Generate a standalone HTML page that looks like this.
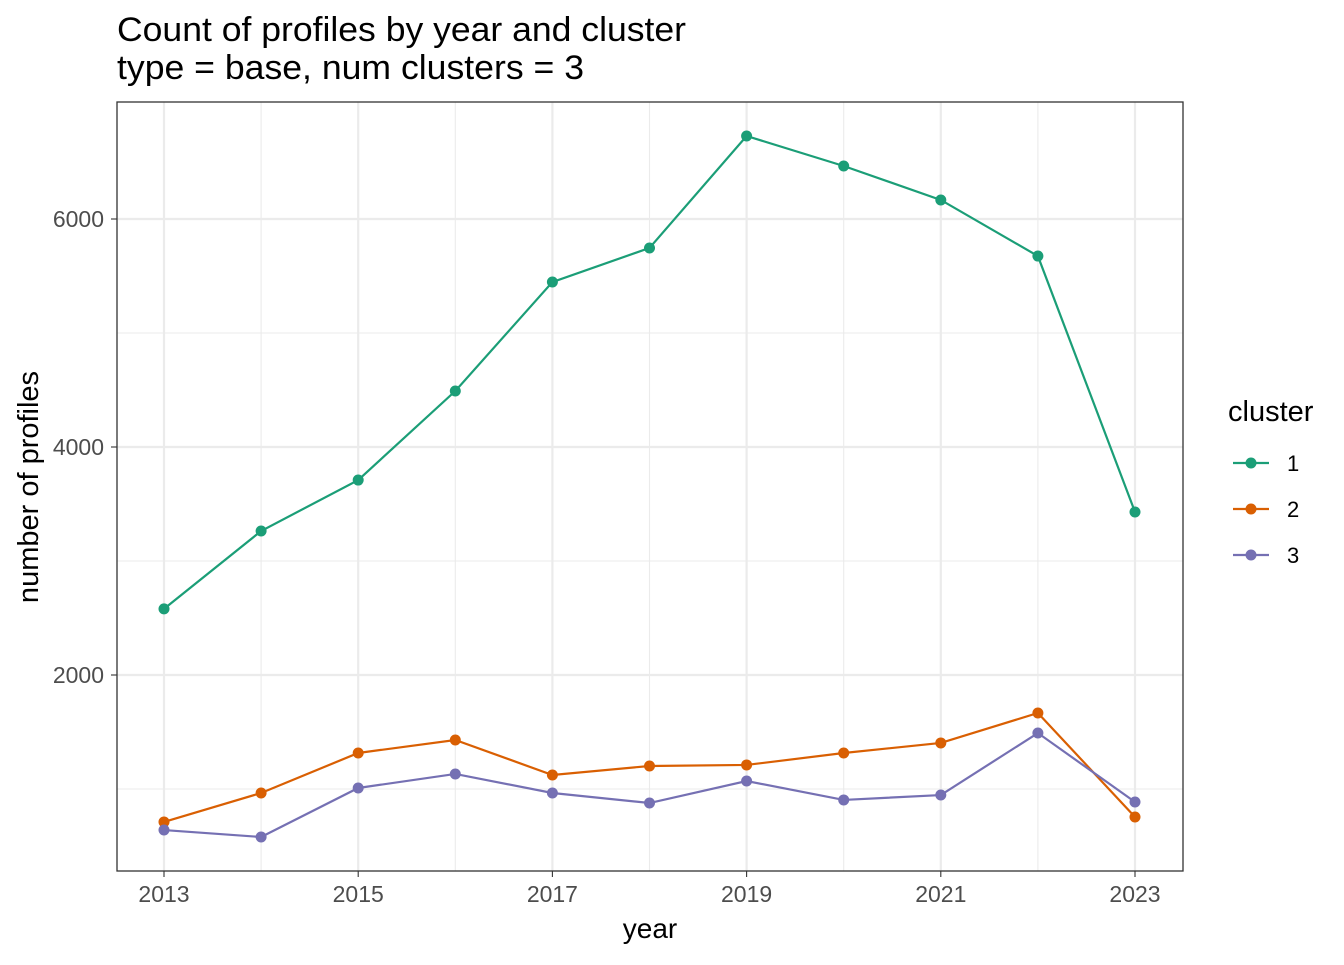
<!DOCTYPE html>
<html><head><meta charset="utf-8"><style>
body{margin:0;background:#fff;}
svg text{font-family:"Liberation Sans",sans-serif;}
</style></head><body>
<svg id="chart" width="1344" height="960" xmlns="http://www.w3.org/2000/svg">
<text x="117" y="41" font-size="34" textLength="569" lengthAdjust="spacingAndGlyphs" fill="#000">Count of profiles by year and cluster</text>
<text x="117" y="79" font-size="34" textLength="467" lengthAdjust="spacingAndGlyphs" fill="#000">type = base, num clusters = 3</text>
<g id="grid"></g>
<g id="series"></g>
<rect x="117" y="102" width="1066" height="769" fill="none" stroke="#333" stroke-width="1.3"/>
<g id="axes"></g>
<text x="650" y="938" font-size="28" text-anchor="middle">year</text>
<text transform="translate(38,487) rotate(-90)" font-size="29" text-anchor="middle">number of profiles</text>
<g id="legend"></g>
</svg>
<script>
const years=[2013,2014,2015,2016,2017,2018,2019,2020,2021,2022,2023];
const cluster1=[2580,3263,3710,4491,5447,5746,6728,6465,6167,5675,3430];
const cluster2=[711,965,1316,1430,1123,1202,1211,1316,1404,1667,754];
const cluster3=[640,579,1009,1132,965,877,1070,904,947,1491,886];
const yTicks=[2000,4000,6000];
const yMinor=[1000,3000,5000];
const xTicks=[2013,2015,2017,2019,2021,2023];
const seriesNames=["1","2","3"];
const colors=["#1b9e77","#d95f02","#7570b3"];
const NS="http://www.w3.org/2000/svg";
function x(v){return 164+(v-2013)*97.1;}
function y(v){return 675-(v-2000)*0.114;}
function mk(tag,attrs,parent){const e=document.createElementNS(NS,tag);for(const k in attrs)e.setAttribute(k,attrs[k]);parent.appendChild(e);return e;}
const grid=document.getElementById('grid'),axes=document.getElementById('axes'),ser=document.getElementById('series'),leg=document.getElementById('legend');
mk('rect',{x:117,y:102,width:1066,height:769,fill:'#fff'},grid);
yMinor.forEach(v=>{const l=mk('line',{x1:117,x2:1183,y1:y(v),y2:y(v),stroke:'#ebebeb','stroke-width':1.1},grid);

});
years.forEach(v=>{if(!xTicks.includes(v)){const l=mk('line',{x1:x(v),x2:x(v),y1:102,y2:871,stroke:'#ebebeb','stroke-width':1.1},grid);

}});
yTicks.forEach(v=>{const l=mk('line',{x1:117,x2:1183,y1:y(v),y2:y(v),stroke:'#ebebeb','stroke-width':2.2},grid);


mk('line',{x1:111,x2:117,y1:y(v),y2:y(v),stroke:'#333','stroke-width':1.1},axes);
const t=mk('text',{x:104,y:y(v)+8,'font-size':23,fill:'#4d4d4d','text-anchor':'end'},axes);t.textContent=v;

});
xTicks.forEach(v=>{const l=mk('line',{x1:x(v),x2:x(v),y1:102,y2:871,stroke:'#ebebeb','stroke-width':2.2},grid);


mk('line',{x1:x(v),x2:x(v),y1:871,y2:877,stroke:'#333','stroke-width':1.1},axes);
const t=mk('text',{x:x(v),y:902,'font-size':23,fill:'#4d4d4d','text-anchor':'middle'},axes);t.textContent=v;

});
[cluster1,cluster2,cluster3].forEach((vals,i)=>{
const p=mk('polyline',{points:vals.map((v,j)=>x(years[j])+','+y(v)).join(' '),fill:'none',stroke:colors[i],'stroke-width':2.2},ser);


vals.forEach((v,j)=>{const c=mk('circle',{cx:x(years[j]),cy:y(v),r:5.5,fill:colors[i]},ser);

});});
const lt=mk('text',{x:1228,y:421,'font-size':29},leg);lt.textContent='cluster';


seriesNames.forEach((n,i)=>{const cy=463+i*46;
const g=mk('g',{},leg);


mk('line',{x1:1233,x2:1269,y1:cy,y2:cy,stroke:colors[i],'stroke-width':2.2},g);
mk('circle',{cx:1251,cy:cy,r:5.5,fill:colors[i]},g);
const t=mk('text',{x:1287,y:cy+8,'font-size':22},g);t.textContent=n;});
</script>
</body></html>
